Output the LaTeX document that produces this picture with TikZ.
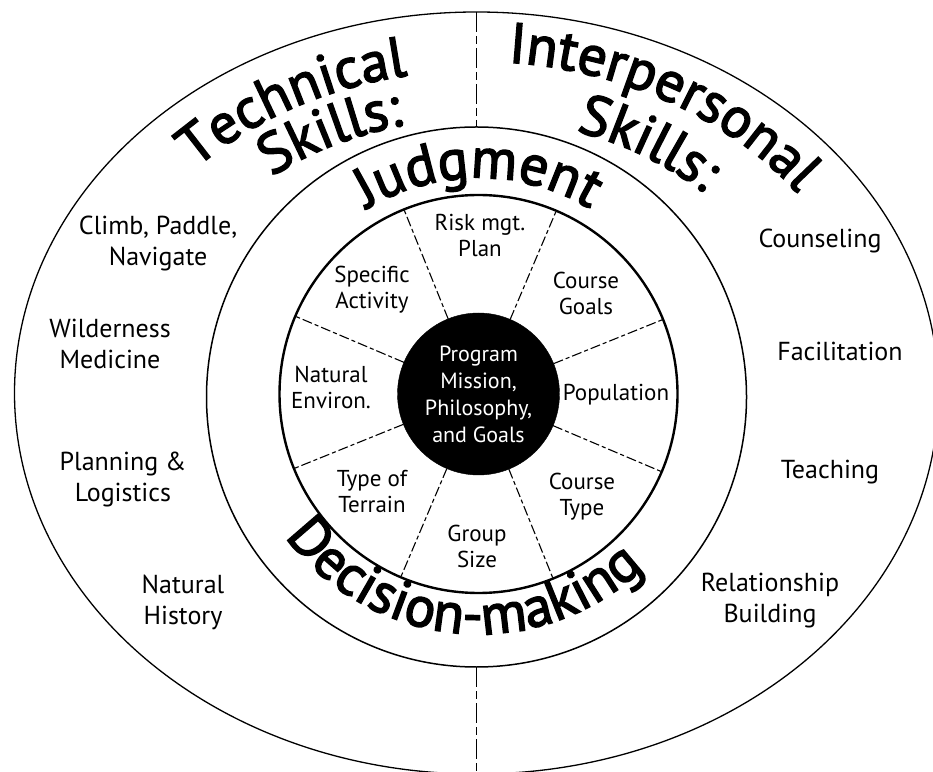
\documentclass[tikz,border=0pt]{standalone}
\usepackage{fontspec}
\setmainfont{PT Sans}
\newfontfamily\headfamily{PT Sans}[FakeBold=2.6]
\usetikzlibrary{shapes.geometric,decorations.text}
\newcommand\arcfont{\fontsize{57}{62}\selectfont\headfamily}

\begin{document}
\begin{tikzpicture}[x=1pt, y=1pt,
  ring/.style={draw, circle, inner sep=0pt, outer sep=0pt},
  spoke/.style={line width=1.1pt, dash pattern=on 10pt off 3pt on 4pt off 3pt},
  divider/.style={line width=1.3pt, dash pattern=on 20pt off 4pt on 8pt off 4pt},
  seglabel/.style={align=center, font=\fontsize{23}{26}\selectfont},
  skill/.style={align=center, font=\fontsize{26}{31}\selectfont},
  corelabel/.style={align=center, text=white, font=\fontsize{22}{27}\selectfont},
  arctext/.style={decorate, decoration={text along path, text align=center, text={|\arcfont|#1}}},
]
\fill[white] (0,0) rectangle (933,771);
\useasboundingbox (0,0) rectangle (933,771);

% rings
\node[draw, ellipse, line width=1.3pt, inner sep=0pt, outer sep=0pt,
      minimum width=924pt, minimum height=762pt] (frame) at (476.5,378) {};
\node[ring, line width=1.5pt, minimum size=540pt] (mid) at (476.5,374) {};
\node[ring, line width=2.4pt, minimum size=398pt] (inner) at (478.5,377) {};
\node[ring, fill=black, minimum size=162pt, corelabel] (core) at (478.5,377)
  {Program\\Mission,\\Philosophy,\\and Goals};

% spokes between the hub and the inner ring
\foreach \a in {22.5,67.5,...,337.5}
  \draw[spoke] (core.\a) -- (inner.\a);

% vertical dividers of the outer band
\draw[divider] (frame.north) -- (mid.north);
\draw[divider] (mid.south) -- (frame.south);

% segment labels
\node[seglabel] (risk)     at (480,535) {Risk mgt.\\Plan};
\node[seglabel] (goals)    at (586,478) {Course\\Goals};
\node[seglabel] (pop)      at (616,376) {Population};
\node[seglabel] (ctype)    at (582,274) {Course\\Type};
\node[seglabel] (group)    at (477,225) {Group\\Size};
\node[seglabel] (terrain)  at (372,279) {Type of\\Terrain};
\node[seglabel] (environ)  at (331,384) {Natural\\Environ.};
\node[seglabel] (activity) at (372,481) {Specific\\Activity};

% technical skills
\node[skill] (climb)  at (158,527) {Climb, Paddle,\\Navigate};
\node[skill] (wild)   at (110,427) {Wilderness\\Medicine};
\node[skill] (plan)   at (123,291) {Planning \&\\Logistics};
\node[skill] (nathist) at (183,169) {Natural\\History};

% interpersonal skills
\node[skill] (couns) at (820,530) {Counseling};
\node[skill] (facil) at (840,420) {Facilitation};
\node[skill] (teach) at (830,299) {Teaching};
\node[skill] (relat) at (770,170) {Relationship\\Building};

% curved headings
\path[arctext=Technical] (476.5,378) ++(154:391 and 322.5)
  arc[start angle=154, end angle=84, x radius=391, y radius=322.5];
\path[arctext=Skills:] (476.5,378) ++(144:332.6 and 274.3)
  arc[start angle=144, end angle=88, x radius=332.6, y radius=274.3];
\path[arctext=Interpersonal] (476.5,378) ++(102:402 and 331.5)
  arc[start angle=102, end angle=18, x radius=402, y radius=331.5];
\path[arctext=Skills:] (476.5,378) ++(87:332.6 and 274.3)
  arc[start angle=87, end angle=31, x radius=332.6, y radius=274.3];
\path[arctext=Judgment] (478.5,377) ++(135:216)
  arc[start angle=135, end angle=45, radius=216];
\path[arctext=Decision-making] (478.5,377) ++(200:240)
  arc[start angle=200, end angle=330, radius=240];
\end{tikzpicture}
\end{document}
